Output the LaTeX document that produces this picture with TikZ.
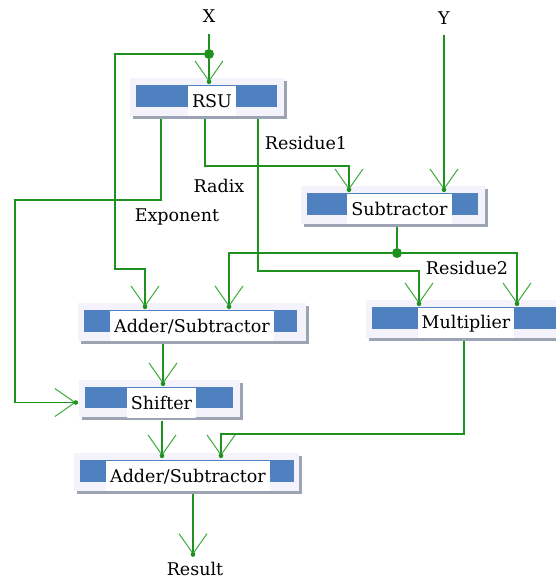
\documentclass[tikz,border=0pt]{standalone}
\usepackage{fontspec}
\setmainfont{DejaVu Serif}
\usetikzlibrary{arrows.meta,decorations.markings}
\definecolor{wirec}{RGB}{30,145,30}
\definecolor{tipc}{RGB}{60,170,60}
\definecolor{barblue}{RGB}{79,128,192}
\definecolor{framec}{RGB}{244,242,250}
\definecolor{shadowc}{RGB}{156,164,180}
\tikzset{
  wire/.style={draw=wirec, line width=1.5pt},
  feed/.style={wire, -{Straight Barb[length=20pt,width=28pt,line width=1pt,color=tipc]},
    postaction={decorate, decoration={markings, mark=at position 1 with {\fill[wirec] (0,0) circle (2.3pt);}}}},
  txt/.style={font=\fontsize{17.5}{21}\selectfont, inner sep=0pt},
  unitlabel/.style={fill=white, font=\fontsize{17.5}{21}\selectfont, inner xsep=4pt, inner ysep=0pt, minimum height=30pt, anchor=north},
  unitarea/.style={inner sep=0pt},
  joint/.style={circle, fill=wirec, inner sep=0pt, minimum size=10pt},
  shadowfill/.style={fill=shadowc},
  framefill/.style={fill=framec},
  barfill/.style={fill=barblue},
}
\begin{document}
\begin{tikzpicture}[x=1pt,y=-1pt]
\useasboundingbox (0,0) rectangle (556,582);
\clip (0,0) rectangle (556,582);

% RSU
\fill[shadowfill] (133,81) rectangle (287,119);
\fill[framefill] (130,78) rectangle (284,116);
\fill[barfill] (136,85) rectangle (277,107);
\node[unitarea, minimum width=157pt, minimum height=37pt] (rsu) at (208.5,100.5) {};
\node[unitlabel] (rsu-t) at (212,86) {RSU};

% Subtractor
\fill[shadowfill] (304,189) rectangle (488,227);
\fill[framefill] (301,186) rectangle (485,224);
\fill[barfill] (307,193) rectangle (478,215);
\node[unitarea, minimum width=187pt, minimum height=37pt] (sub) at (394.5,208.5) {};
\node[unitlabel] (sub-t) at (399.5,194) {Subtractor};

% Adder/Subtractor 1
\fill[shadowfill] (81,306) rectangle (309,344);
\fill[framefill] (78,303) rectangle (306,341);
\fill[barfill] (84,310) rectangle (297,332);
\node[unitarea, minimum width=231pt, minimum height=37pt] (add1) at (193.5,325.5) {};
\node[unitlabel] (add1-t) at (192,311) {Adder/Subtractor};

% Multiplier
\fill[shadowfill] (369,303) rectangle (578,341);
\fill[framefill] (366,300) rectangle (575,338);
\fill[barfill] (372,307) rectangle (570,329);
\node[unitarea, minimum width=212pt, minimum height=37pt] (mul) at (472,322.5) {};
\node[unitlabel] (mul-t) at (466,308) {Multiplier};

% Shifter
\fill[shadowfill] (82,383) rectangle (243,420);
\fill[framefill] (79,380) rectangle (240,417);
\fill[barfill] (85,387) rectangle (233,408);
\node[unitarea, minimum width=164pt, minimum height=37pt] (shf) at (161,402.5) {};
\node[unitlabel] (shf-t) at (161.5,388) {Shifter};

% Adder/Subtractor 2
\fill[shadowfill] (77,456) rectangle (302,494);
\fill[framefill] (74,453) rectangle (299,491);
\fill[barfill] (80,460) rectangle (294,482);
\node[unitarea, minimum width=228pt, minimum height=38pt] (add2) at (188,475) {};
\node[unitlabel] (add2-t) at (188,461) {Adder/Subtractor};

% texts
\node[txt, inner ysep=11pt] (xl) at (209,16) {X};
\node[txt, inner ysep=10pt] (yl) at (444,18) {Y};
\node[txt, inner ysep=7.5pt] (res) at (195,569) {Result};
\node[txt] (r1) at (306,143) {Residue1};
\node[txt] (rdx) at (219,186) {Radix};
\node[txt] (expo) at (177,217) {Exponent};
\node[txt] (r2) at (467,268) {Residue2};

% junctions
\node[joint] (xj) at (209,54) {};
\node[joint] (sj) at (397,253) {};

% wires
\draw[wire] (xl) -- (xj);
\draw[feed] (xj) -- (xj |- rsu.north);
\draw[feed] (xj) -| (115,269) -| (145,0 |- add1.north);
\draw[feed] (205,0 |- rsu.south) |- (349,166) -- (349,0 |- sub.north);
\draw[feed] (161,0 |- rsu.south) |- (15,200) |- ([xshift=-3pt]shf.west);
\draw[feed] (258,0 |- rsu.south) |- (419,271) -- (419,0 |- mul.north);
\draw[feed] (yl) -- (yl |- sub.north);
\draw[wire] (397,0 |- sub.south) -- (sj);
\draw[feed] (sj) -| (229,0 |- add1.north);
\draw[feed] (sj) -| (517,0 |- mul.north);
\draw[feed] (163,0 |- add1.south) -- (163,0 |- shf.north);
\draw[feed] (162,0 |- shf.south) -- (162,0 |- add2.north);
\draw[feed] (464,0 |- mul.south) |- (221,434) -- (221,0 |- add2.north);
\draw[feed] (193,0 |- add2.south) -- (193,0 |- res.north);
\end{tikzpicture}
\end{document}
